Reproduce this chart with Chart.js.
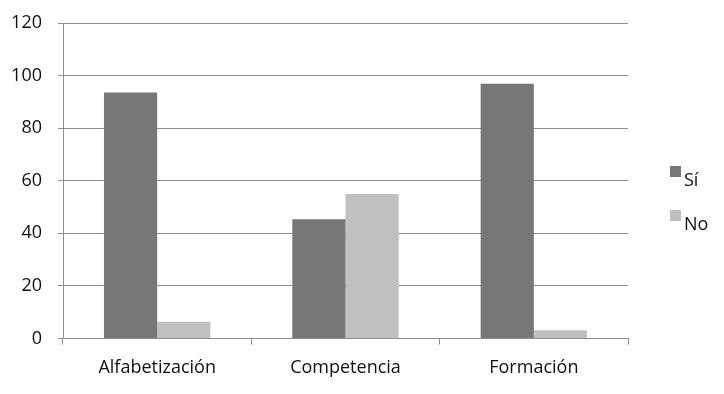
<!DOCTYPE html>
<html>
<head>
<meta charset="utf-8">
<script src="https://cdn.jsdelivr.net/npm/chart.js@4/dist/chart.umd.min.js"></script>
<style>
html,body{margin:0;padding:0;background:#fff;}
#wrap{width:724px;height:394px;}
</style>
</head>
<body>
<div id="wrap"><canvas id="c" width="724" height="394"></canvas></div>
<script>
const categories = ["Alfabetización", "Competencia", "Formación"];
const seriesNames = ["Sí", "No"];
const siValues = [93.6, 45.4, 96.9];
const noValues = [6.4, 55.0, 3.1];
const yTicks = [0, 20, 40, 60, 80, 100, 120];

const colors = ["#767776", "#c0c0c0"];
const FONT = "'Open Sans', sans-serif";

const legendPlugin = {
  id: 'customLegend',
  afterDraw(chart) {
    const ctx = chart.ctx;
    const area = chart.chartArea;
    ctx.save();
    chart.data.datasets.forEach((ds, i) => {
      const bx = area.right + 42;
      const by = 166 + i * 44;
      ctx.fillStyle = ds.backgroundColor;
      ctx.fillRect(bx, by, 11, 11);
      ctx.fillStyle = '#111';
      ctx.font = "18px " + FONT;
      ctx.textBaseline = 'alphabetic';
      ctx.textAlign = 'left';
      ctx.fillText(ds.label, bx + 14, by + 20);
    });
    ctx.restore();
  }
};

new Chart(document.getElementById('c'), {
  type: 'bar',
  data: {
    labels: categories,
    datasets: [
      { label: seriesNames[0], data: siValues, backgroundColor: colors[0] },
      { label: seriesNames[1], data: noValues, backgroundColor: colors[1] }
    ]
  },
  options: {
    responsive: false,
    animation: false,
    devicePixelRatio: 1,
    layout: { padding: { left: 0, right: 96, top: 23, bottom: 0 } },
    plugins: { legend: { display: false }, tooltip: { enabled: false } },
    datasets: { bar: { categoryPercentage: 0.565, barPercentage: 1.0 } },
    scales: {
      x: {
        grid: { display: true, drawOnChartArea: false, drawTicks: true, tickLength: 6, color: '#8f8f8f', offset: true },
        border: { display: true, color: '#8f8f8f' },
        ticks: { color: '#111', font: { family: FONT, size: 18 }, padding: 13 },
        afterFit(scale) { scale.height = 55.5; scale.paddingLeft = 0; scale.paddingRight = 0; }
      },
      y: {
        min: 0, max: 120,
        afterBuildTicks(scale) { scale.ticks = yTicks.map(v => ({ value: v })); },
        grid: { color: '#8f8f8f', drawTicks: true, tickLength: 5 },
        border: { display: true, color: '#8f8f8f' },
        ticks: { color: '#111', font: { family: FONT, size: 18 }, padding: 16 },
        afterFit(scale) { scale.width = 63; scale.paddingTop = 0; scale.paddingBottom = 0; }
      }
    }
  },
  plugins: [legendPlugin]
});
</script>
</body>
</html>
